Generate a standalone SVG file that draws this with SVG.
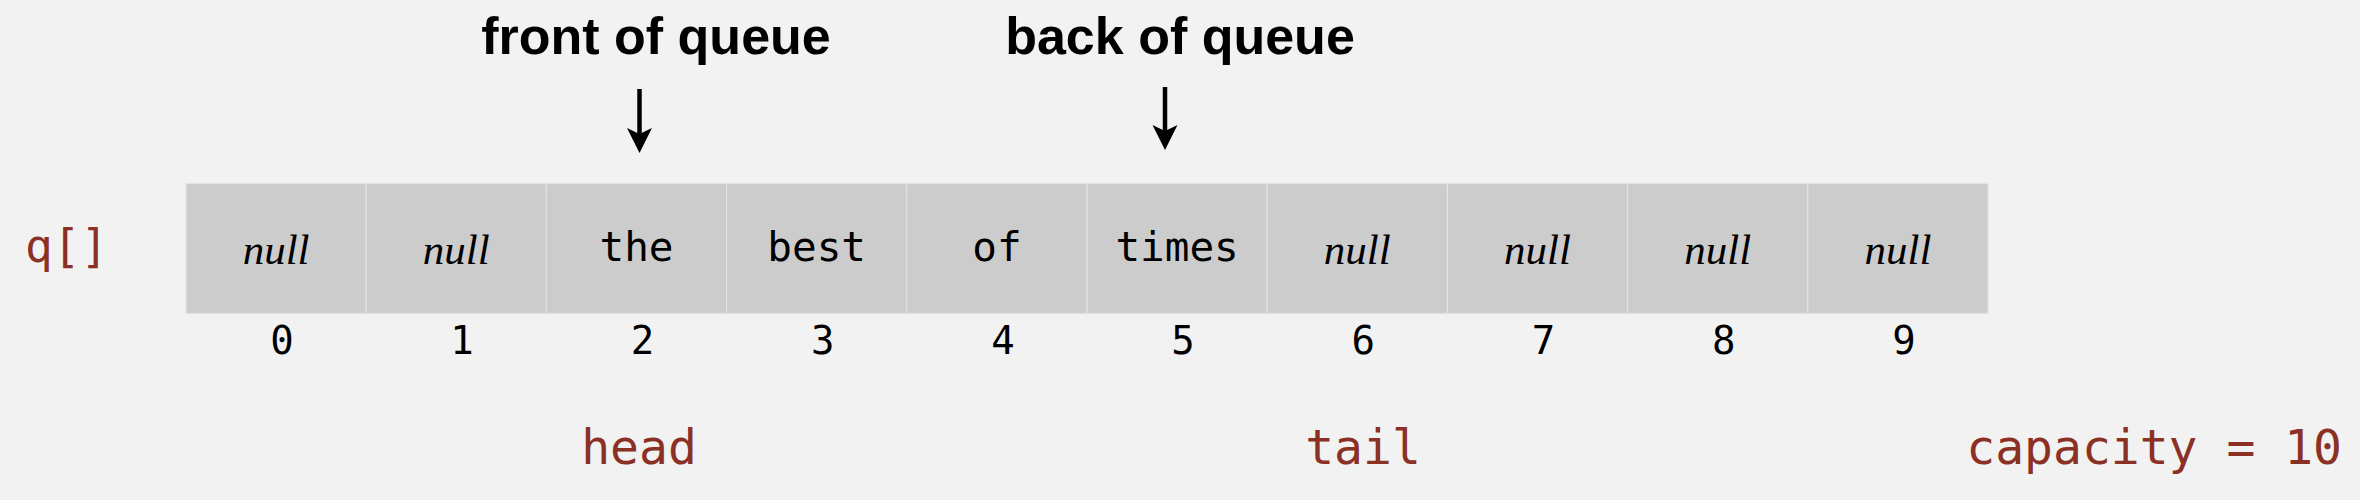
<svg xmlns="http://www.w3.org/2000/svg" width="2360" height="500" viewBox="0 0 2360 500">
<style>
.bg{fill:#f2f2f2}
.cell{fill:#cccccc;stroke:#e2e2e2;stroke-width:1.2}
.null{font-family:"Liberation Serif",serif;font-style:italic;font-size:43px;fill:#000;text-anchor:middle}
.val{font-family:"DejaVu Sans Mono",monospace;font-size:41px;fill:#000;text-anchor:middle}
.idx{font-family:"DejaVu Sans Mono",monospace;font-size:39px;fill:#000;text-anchor:middle}
.red{font-family:"DejaVu Sans Mono",monospace;font-size:48px;fill:#8b3024}
.lbl{font-family:"Liberation Sans",sans-serif;font-weight:bold;font-size:52px;fill:#000;text-anchor:middle}
.arrow{stroke:#000;stroke-width:4.5;fill:none}
.head{fill:#000}
</style>
<defs>
<path id="ah" class="head" d="M0,0 L-12.5,-25 L0,-19 L12.5,-25 Z"/>
</defs>
<rect class="bg" x="0" y="0" width="2360" height="500"/>

<g id="title-front"><text class="lbl" x="656" y="54">front of queue</text></g>
<g id="title-back"><text class="lbl" x="1180" y="54">back of queue</text></g>

<g id="connectors">
<line class="arrow" x1="639.5" y1="89" x2="639.5" y2="140"/>
<use href="#ah" x="639.5" y="153"/>
<line class="arrow" x1="1165" y1="87" x2="1165" y2="137"/>
<use href="#ah" x="1165" y="150"/>
</g>

<g id="array-label"><text class="red" x="25" y="262" style="font-size:46px">q[]</text></g>

<g id="cell0"><rect class="cell" x="186" y="183.5" width="180.2" height="130"/><text class="null" x="276.1" y="264">null</text><text class="idx" x="282" y="354">0</text></g>
<g id="cell1"><rect class="cell" x="366.2" y="183.5" width="180.2" height="130"/><text class="null" x="456.3" y="264">null</text><text class="idx" x="462" y="354">1</text></g>
<g id="cell2"><rect class="cell" x="546.4" y="183.5" width="180.2" height="130"/><text class="val" x="636.5" y="261">the</text><text class="idx" x="642.5" y="354">2</text></g>
<g id="cell3"><rect class="cell" x="726.6" y="183.5" width="180.2" height="130"/><text class="val" x="816.7" y="261">best</text><text class="idx" x="822.7" y="354">3</text></g>
<g id="cell4"><rect class="cell" x="906.8" y="183.5" width="180.2" height="130"/><text class="val" x="996.9" y="261">of</text><text class="idx" x="1002.9" y="354">4</text></g>
<g id="cell5"><rect class="cell" x="1087" y="183.5" width="180.2" height="130"/><text class="val" x="1177.1" y="261">times</text><text class="idx" x="1183.1" y="354">5</text></g>
<g id="cell6"><rect class="cell" x="1267.2" y="183.5" width="180.2" height="130"/><text class="null" x="1357.3" y="264">null</text><text class="idx" x="1363.3" y="354">6</text></g>
<g id="cell7"><rect class="cell" x="1447.4" y="183.5" width="180.2" height="130"/><text class="null" x="1537.5" y="264">null</text><text class="idx" x="1543.5" y="354">7</text></g>
<g id="cell8"><rect class="cell" x="1627.6" y="183.5" width="180.2" height="130"/><text class="null" x="1717.7" y="264">null</text><text class="idx" x="1723.7" y="354">8</text></g>
<g id="cell9"><rect class="cell" x="1807.8" y="183.5" width="180.2" height="130"/><text class="null" x="1897.9" y="264">null</text><text class="idx" x="1903.9" y="354">9</text></g>

<g id="head-label"><text class="red" x="639" y="464" text-anchor="middle">head</text></g>
<g id="tail-label"><text class="red" x="1363" y="464" text-anchor="middle">tail</text></g>
<g id="capacity-label"><text class="red" x="2342" y="464" text-anchor="end">capacity = 10</text></g>
</svg>
